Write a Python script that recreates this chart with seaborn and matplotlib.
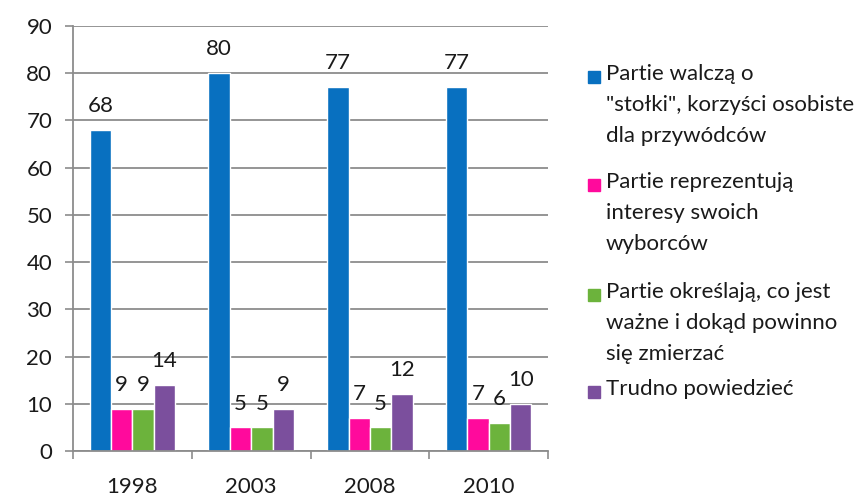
import numpy as np
import pandas as pd
import seaborn as sns
import matplotlib
matplotlib.use('Agg')
import matplotlib.pyplot as plt
from matplotlib.patches import Rectangle

# dane
years = ['1998', '2003', '2008', '2010']
series = ['Partie walczą o "stołki", korzyści osobiste dla przywódców',
          'Partie reprezentują interesy swoich wyborców',
          'Partie określają, co jest ważne i dokąd powinno się zmierzać',
          'Trudno powiedzieć']
legend_labels = ['Partie walczą o\n"stołki", korzyści osobiste\ndla przywódców',
                 'Partie reprezentują\ninteresy swoich\nwyborców',
                 'Partie określają, co jest\nważne i dokąd powinno\nsię zmierzać',
                 'Trudno powiedzieć']
walcza = [68, 80, 77, 77]
reprezentuja = [9, 5, 7, 7]
okreslaja = [9, 5, 5, 6]
trudno = [14, 9, 12, 10]
colors = ['#0870c0', '#ff0a9c', '#6cb33c', '#7b4f9d']

df = pd.DataFrame({
    'rok': years * 4,
    'odpowiedz': np.repeat(series, len(years)),
    'procent': walcza + reprezentuja + okreslaja + trudno,
})

sns.set_theme(style='white')
plt.rcParams['font.family'] = ['Lato', 'DejaVu Sans']
grid_col = '#8c8c8c'
txt_col = '#1a1a1a'

fig = plt.figure(figsize=(8.63, 5), dpi=100)
ax = fig.add_axes([73 / 863, 1 - 451 / 500, 475 / 863, 425 / 500])

sns.barplot(data=df, x='rok', y='procent', hue='odpowiedz', hue_order=series,
            palette=colors, saturation=1, width=0.72, errorbar=None,
            legend=False, ax=ax)

for c in ax.containers:
    ax.bar_label(c, fmt='%d', padding=10, fontsize=16, color=txt_col)

ax.set_ylim(0, 90)
ax.set_xlim(-0.5, 3.5)
ax.set_yticks(range(0, 91, 10))
ax.set_xticks(np.arange(-0.5, 4), minor=True)
ax.set_xlabel('')
ax.set_ylabel('')
ax.tick_params(axis='x', which='major', length=0, pad=19, labelsize=16, labelcolor=txt_col)
ax.tick_params(axis='x', which='minor', length=6, width=1.2, color=grid_col, direction='out', bottom=True)
ax.tick_params(axis='y', length=6, width=1.2, color=grid_col, direction='out', pad=9, labelsize=16,
               labelcolor=txt_col, left=True)
ax.yaxis.grid(True, color=grid_col, lw=1.3)
ax.set_axisbelow(True)
for s in ['top', 'right']:
    ax.spines[s].set_visible(False)
for s in ['left', 'bottom']:
    ax.spines[s].set_color(grid_col)
    ax.spines[s].set_linewidth(1.3)

# legenda po prawej: kwadrat przy pierwszej linii opisu
legend_y = [77, 185, 295, 392]
for lab, col, yp in zip(legend_labels, colors, legend_y):
    y = 1 - yp / 500
    fig.add_artist(Rectangle((588 / 863, y - 6 / 500), 12 / 863, 12 / 500,
                             transform=fig.transFigure, color=col))
    fig.text(606 / 863, 1 - (yp - 13) / 500, lab, va='top', ha='left', fontsize=16,
             linespacing=1.7, color=txt_col)

plt.savefig('out.png', dpi=100)
plt.close()
